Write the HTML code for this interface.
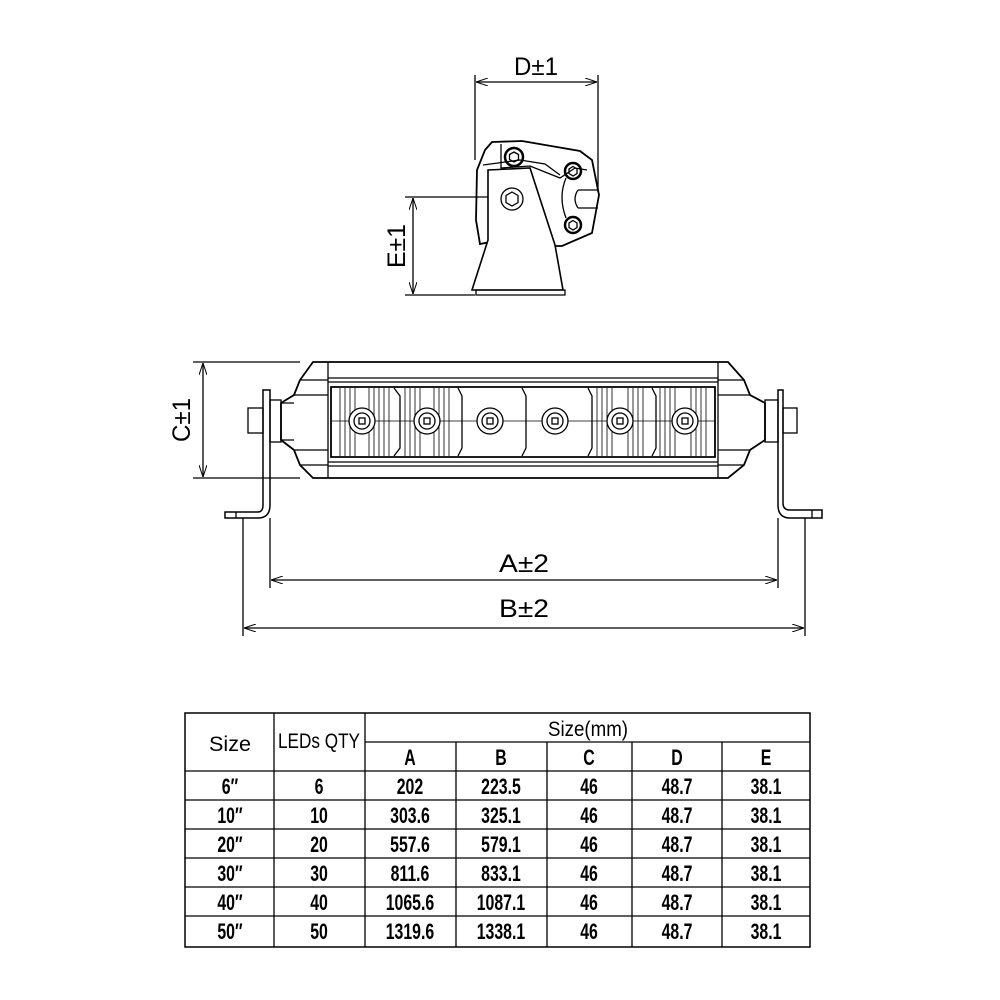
<!DOCTYPE html>
<html><head><meta charset="utf-8"><style>
html,body{margin:0;padding:0;background:#fff}
svg{display:block}
text{font-family:"Liberation Sans Narrow","Liberation Sans",sans-serif;fill:#000}
</style></head><body>
<svg width="1000" height="1000" viewBox="0 0 1000 1000" xmlns="http://www.w3.org/2000/svg">
<defs>
<marker id="ar" viewBox="0 0 12 8" refX="12" refY="4" markerWidth="12" markerHeight="8" orient="auto-start-reverse" markerUnits="userSpaceOnUse">
<path d="M0,0 L12,4 L0,8" fill="none" stroke="#000" stroke-width="1"/>
</marker>
</defs>
<g stroke="#000" fill="none" stroke-width="1.3">
<!-- ===== Side view ===== -->
<line x1="475" y1="75" x2="475" y2="160"/>
<line x1="598" y1="75" x2="598" y2="192"/>
<line x1="476" y1="82" x2="597" y2="82" marker-start="url(#ar)" marker-end="url(#ar)"/>
<line x1="405" y1="197" x2="510" y2="197"/>
<line x1="405" y1="295" x2="475" y2="295"/>
<line x1="413" y1="198" x2="413" y2="294" marker-start="url(#ar)" marker-end="url(#ar)"/>
<path d="M492,142 L522,141 L580,151 L592,160 L599,195 L592,233 L562,246 L555,246 L545,230 L490,242 L480,244 L476,220 L477,170 L485,150 Z" stroke-width="1.8"/>
<path d="M501,144 L501,168 L530,166 L560,178 L575,168 L587,170"/>
<path d="M483,165 L520,160 L545,164 L560,175"/>
<path d="M488,170 L530,168 L555,245 L563,290 L472,290 L488,240 Z" stroke-width="1.6" fill="#fff"/>
<path d="M476,290 L565,290 L565,295 L476,295 Z"/>
<circle cx="512" cy="199" r="11"/>
<polygon points="512,192 518,195.5 518,202.5 512,206 506,202.5 506,195.5"/>
<circle cx="514" cy="157" r="9" stroke-width="2.5"/>
<polygon points="514,152 518.5,154.5 518.5,159.5 514,162 509.5,159.5 509.5,154.5"/>
<circle cx="573" cy="171" r="8" stroke-width="2.5"/>
<polygon points="573,166.5 577,169 577,173.5 573,176 569,173.5 569,169"/>
<circle cx="573" cy="225" r="8" stroke-width="2.5"/>
<polygon points="573,220.5 577,223 577,227.5 573,230 569,227.5 569,223"/>
<path d="M566,178 Q558,197 566,218"/>
<path d="M578,190 L598,190 M578,208 L598,208 M578,190 Q572,199 578,208"/>
<!-- ===== Front view ===== -->
<line x1="193" y1="362" x2="300" y2="362"/>
<line x1="193" y1="478" x2="300" y2="478"/>
<line x1="203" y1="363" x2="203" y2="477" marker-start="url(#ar)" marker-end="url(#ar)"/>
<path d="M313,362 L728,362 L744,380 L750,395 L765,403 L765,440 L750,450 L744,465 L728,478 L313,478 L300,465 L294,450 L281,440 L281,403 L294,395 L300,380 Z" stroke-width="1.8"/>
<line x1="328" y1="362" x2="328" y2="478"/>
<line x1="718" y1="362" x2="718" y2="478"/>
<line x1="328" y1="378" x2="718" y2="378"/>
<line x1="328" y1="382" x2="718" y2="382"/>
<line x1="328" y1="462" x2="718" y2="462"/>
<line x1="328" y1="466" x2="718" y2="466"/>
<path d="M300,380 L328,380 M300,465 L328,465 M294,395 L328,395 M294,450 L328,450 M281,403 L294,403 M281,440 L294,440"/>
<path d="M718,380 L744,380 M718,465 L744,465 M718,395 L750,395 M718,450 L750,450"/>
<path d="M331,387 L715,387 L715,457 L331,457 Z" stroke-width="1.8"/>
<line x1="331" y1="421" x2="715" y2="421" stroke-width="0.8"/>
<g stroke-width="0.8">
<path d="M340,388 V456 M345,388 V456 M350,388 V456 M355,388 V456 M369,388 V456 M374,388 V456 M379,388 V456 M384,388 V456 M389,388 V456"/>
<path d="M405,388 V456 M410,388 V456 M415,388 V456 M420,388 V456 M434,388 V456 M439,388 V456 M444,388 V456 M449,388 V456"/>
<path d="M597,388 V456 M602,388 V456 M607,388 V456 M612,388 V456 M628,388 V456 M633,388 V456 M638,388 V456 M643,388 V456"/>
<path d="M660,388 V456 M665,388 V456 M670,388 V456 M675,388 V456 M691,388 V456 M696,388 V456 M701,388 V456 M706,388 V456"/>
</g>
<path d="M394,388 L400,396 L400,448 L394,456 M458,388 L462,396 L462,448 L458,456 M522,388 L526,396 L526,448 L522,456 M588,388 L592,396 L592,448 L588,456 M652,388 L656,396 L656,448 L652,456"/>
<g fill="#fff" stroke-width="1.3">
<circle cx="362" cy="421" r="13"/><circle cx="427" cy="421" r="13"/><circle cx="490" cy="421" r="13"/>
<circle cx="555" cy="421" r="13"/><circle cx="620" cy="421" r="13"/><circle cx="685" cy="421" r="13"/>
</g>
<g>
<circle cx="362" cy="421" r="8"/><circle cx="427" cy="421" r="8"/><circle cx="490" cy="421" r="8"/>
<circle cx="555" cy="421" r="8"/><circle cx="620" cy="421" r="8"/><circle cx="685" cy="421" r="8"/>
<rect x="359" y="418" width="6" height="6"/><rect x="424" y="418" width="6" height="6"/><rect x="487" y="418" width="6" height="6"/>
<rect x="552" y="418" width="6" height="6"/><rect x="617" y="418" width="6" height="6"/><rect x="682" y="418" width="6" height="6"/>
</g>
<rect x="270" y="400" width="11" height="42"/>
<rect x="248" y="408" width="15" height="25"/>
<path d="M263,390 L270,390 L270,505 Q270,518 258,518 L225,518 L225,512 L258,512 Q263,512 263,505 Z" stroke-width="1.5"/>
<line x1="236" y1="512" x2="236" y2="518"/>
<rect x="765" y="400" width="13" height="42"/>
<rect x="783" y="408" width="14" height="25"/>
<path d="M783,390 L778,390 L778,505 Q778,518 790,518 L822,518 L822,510 L790,510 Q783,510 783,503 Z" stroke-width="1.5"/>
<line x1="812" y1="510" x2="812" y2="518"/>
<line x1="270" y1="518" x2="270" y2="588"/>
<line x1="778" y1="518" x2="778" y2="588"/>
<line x1="243" y1="518" x2="243" y2="636"/>
<line x1="805" y1="518" x2="805" y2="636"/>
<line x1="271" y1="580" x2="777" y2="580" marker-start="url(#ar)" marker-end="url(#ar)"/>
<line x1="244" y1="628" x2="804" y2="628" marker-start="url(#ar)" marker-end="url(#ar)"/>
<!-- ===== Table ===== -->
<rect x="185" y="713" width="625" height="234" stroke-width="1.5"/>
<path d="M365,742 H810 M365,771 H810 M185,771 H365 M185,800 H810 M185,829 H810 M185,858 H810 M185,887 H810 M185,916 H810"/>
<path d="M274,713 V947 M365,713 V947 M456,742 V947 M547,742 V947 M632,742 V947 M722,742 V947"/>
</g>
<g font-size="25">
<text x="536" y="75" text-anchor="middle" textLength="44" lengthAdjust="spacingAndGlyphs">D±1</text>
<text x="0" y="0" transform="translate(405,246) rotate(-90)" text-anchor="middle" textLength="44" lengthAdjust="spacingAndGlyphs">E±1</text>
<text x="0" y="0" transform="translate(190,420) rotate(-90)" text-anchor="middle" textLength="44" lengthAdjust="spacingAndGlyphs">C±1</text>
<text x="524" y="572" text-anchor="middle" textLength="50" lengthAdjust="spacingAndGlyphs">A±2</text>
<text x="524" y="617" text-anchor="middle" textLength="50" lengthAdjust="spacingAndGlyphs">B±2</text>
</g>
<g font-size="21" text-anchor="middle">
<text x="230" y="751" textLength="42" lengthAdjust="spacingAndGlyphs">Size</text>
<text x="319" y="748" textLength="82" lengthAdjust="spacingAndGlyphs">LEDs QTY</text>
<text x="588" y="736" textLength="80" lengthAdjust="spacingAndGlyphs">Size(mm)</text>
</g>
<g font-size="22" font-weight="bold" text-anchor="middle" transform="scale(0.72 1)">
<text x="569.4" y="765">A</text><text x="695.8" y="765">B</text><text x="818.1" y="765">C</text><text x="940.3" y="765">D</text><text x="1063.9" y="765">E</text>
<text x="319.4" y="794">6″</text><text x="443.1" y="794">6</text><text x="569.4" y="794">202</text><text x="695.8" y="794">223.5</text><text x="818.1" y="794">46</text><text x="940.3" y="794">48.7</text><text x="1063.9" y="794">38.1</text>
<text x="319.4" y="823">10″</text><text x="443.1" y="823">10</text><text x="569.4" y="823">303.6</text><text x="695.8" y="823">325.1</text><text x="818.1" y="823">46</text><text x="940.3" y="823">48.7</text><text x="1063.9" y="823">38.1</text>
<text x="319.4" y="852">20″</text><text x="443.1" y="852">20</text><text x="569.4" y="852">557.6</text><text x="695.8" y="852">579.1</text><text x="818.1" y="852">46</text><text x="940.3" y="852">48.7</text><text x="1063.9" y="852">38.1</text>
<text x="319.4" y="881">30″</text><text x="443.1" y="881">30</text><text x="569.4" y="881">811.6</text><text x="695.8" y="881">833.1</text><text x="818.1" y="881">46</text><text x="940.3" y="881">48.7</text><text x="1063.9" y="881">38.1</text>
<text x="319.4" y="910">40″</text><text x="443.1" y="910">40</text><text x="569.4" y="910">1065.6</text><text x="695.8" y="910">1087.1</text><text x="818.1" y="910">46</text><text x="940.3" y="910">48.7</text><text x="1063.9" y="910">38.1</text>
<text x="319.4" y="939">50″</text><text x="443.1" y="939">50</text><text x="569.4" y="939">1319.6</text><text x="695.8" y="939">1338.1</text><text x="818.1" y="939">46</text><text x="940.3" y="939">48.7</text><text x="1063.9" y="939">38.1</text>
</g>
</svg>
</body></html>
